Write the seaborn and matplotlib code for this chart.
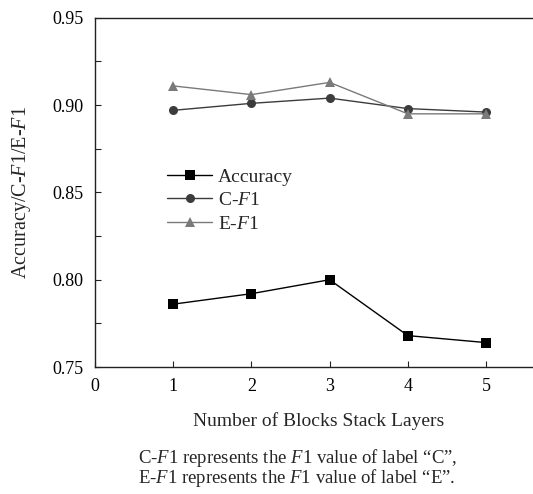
import matplotlib
matplotlib.use("Agg")
import matplotlib.pyplot as plt
import seaborn as sns
import pandas as pd
from matplotlib.ticker import MultipleLocator

layers = [1, 2, 3, 4, 5]
accuracy = [0.786, 0.792, 0.800, 0.768, 0.764]
c_f1 = [0.897, 0.901, 0.904, 0.898, 0.896]
e_f1 = [0.911, 0.906, 0.913, 0.895, 0.895]
series_names = ["Accuracy", "C-$\\mathit{F}$1", "E-$\\mathit{F}$1"]
caption = ("C-$\\mathit{F}$1 represents the $\\mathit{F}$1 value of label \u201cC\u201d,\n"
           "E-$\\mathit{F}$1 represents the $\\mathit{F}$1 value of label \u201cE\u201d.")

sns.set_theme(style="ticks")
plt.rcParams['font.family'] = ['Liberation Serif', 'DejaVu Serif']
plt.rcParams['mathtext.fontset'] = 'custom'
plt.rcParams['mathtext.rm'] = 'Liberation Serif'
plt.rcParams['mathtext.it'] = 'Liberation Serif:italic'

df = pd.DataFrame({
    "layers": layers * 3,
    "value": accuracy + c_f1 + e_f1,
    "series": [series_names[0]] * 5 + [series_names[1]] * 5 + [series_names[2]] * 5,
})

fig = plt.figure(figsize=(5.33, 4.94), dpi=100)
ax = fig.add_axes([0.178, 0.257, 0.822, 0.707])

palette = {series_names[0]: "#000000", series_names[1]: "#3c3c3c", series_names[2]: "#7a7a7a"}
markers = {series_names[0]: "s", series_names[1]: "o", series_names[2]: "^"}
sns.lineplot(data=df, x="layers", y="value", hue="series", style="series",
             palette=palette, markers=markers, dashes=False, markersize=6.5,
             markeredgewidth=0, linewidth=1.0, ax=ax, legend=True)

ax.set_xlim(0, 5.6)
ax.set_ylim(0.75, 0.95)
ax.set_xticks([0, 1, 2, 3, 4, 5])
ax.yaxis.set_major_locator(MultipleLocator(0.05))
ax.yaxis.set_minor_locator(MultipleLocator(0.025))
ax.yaxis.set_major_formatter(matplotlib.ticker.FormatStrFormatter('%.2f'))
ax.tick_params(direction='in', labelsize=13, length=4, width=0.8, colors='#222222', labelcolor='black')
ax.tick_params(which='minor', direction='in', length=4, width=0.8)
ax.tick_params(axis='x', pad=8)
ax.tick_params(axis='y', pad=8)
for s in ['left', 'top', 'bottom']:
    ax.spines[s].set_color('#222222')
    ax.spines[s].set_linewidth(1.0)
ax.spines['right'].set_visible(False)

ax.set_xlabel("Number of Blocks Stack Layers", fontsize=14)
ax.xaxis.set_label_coords(0.511, -0.13)
ax.set_ylabel("Accuracy/C-$\\mathit{F}$1/E-$\\mathit{F}$1", fontsize=14.5)
ax.yaxis.set_label_coords(-0.142, 0.5)

leg = ax.legend(loc='upper left', bbox_to_anchor=(0.148, 0.592), frameon=False,
                fontsize=14, handlelength=2.3, handletextpad=0.3, labelspacing=0.3,
                borderaxespad=0)

fig.text(0.259, 0.010, caption, fontsize=13.5, ha='left', va='bottom',
         multialignment='left', linespacing=0.85)

fig.savefig("out.png", dpi=100)
